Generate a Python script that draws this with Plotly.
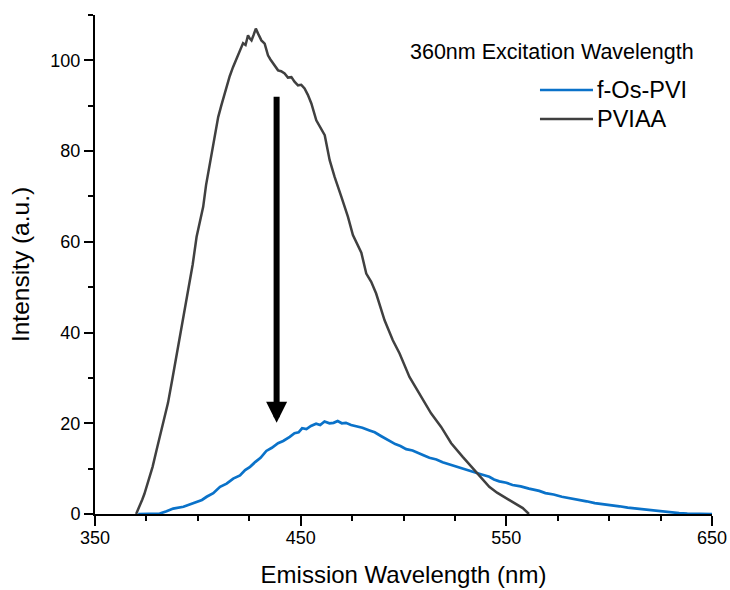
import plotly.graph_objects as go

# ---------------- data ----------------
pviaa_wl = [370, 371.5, 373, 374, 376, 378, 380, 383, 385.5, 387.5, 389.5, 391.3, 393.5, 395.3,
            397.5, 399.4, 401, 402.6, 404, 405.3, 406.5, 407.4, 408.8, 409.9, 411.5, 413.9, 415.5,
            417.1, 418.8, 420.4, 422, 423.2, 424.4, 425.3, 426.1, 427.2, 428.2, 429.3, 430.9, 432.5,
            434.1, 435.3, 436.6, 438, 439, 440.5, 442.2, 443.8, 445.5, 447, 448.7, 450.3, 451.9,
            453.5, 455.2, 457.6, 459.8, 461.7, 464.1, 466.5, 469.8, 473, 475.4, 477.5, 479.5, 481.9,
            484.3, 486.7, 490.8, 494.8, 498.1, 502.9, 508.6, 513.4, 518.3, 523.2, 528.8, 535.3,
            541.7, 545.5, 549.9, 554, 558, 561]
pviaa_int = [0, 1.5, 3.2, 4.4, 7.2, 10.4, 14.2, 20, 24.5, 29.5, 34.5, 39.1, 44.5, 48.6,
             55, 61.1, 64.5, 67.7, 72.5, 75.8, 78.5, 81.6, 85.2, 87.5, 90.2, 94.1, 96.5,
             98.5, 100.3, 101.8, 103.8, 103.4, 105.5, 104.8, 104.4, 105.7, 107, 105.9, 104.4, 103.7,
             101.1, 100.2, 99.3, 98.5, 97.8, 97.6, 97.1, 96.2, 96.3, 95.3, 94.5, 94.6, 93.8,
             92.4, 90.5, 86.8, 85.1, 83.5, 78, 74.3, 69.9, 65.5, 61.5, 59.6, 57.6, 53,
             51.2, 48.6, 42.7, 38.3, 35.4, 30.2, 25.8, 22.2, 19.2, 15.6, 12.6, 9.3,
             6.0, 4.7, 3.5, 2.2, 1.3, 0]

fos_wl = [371, 376, 381.5, 384.8, 388, 393, 396, 399.4, 402, 404.3, 407.5, 410.8, 414, 417.2,
          420.5, 423, 425.4, 428, 430.5, 433.3, 436, 439, 441.5, 444.7, 447, 449, 450.7, 452.8,
          455, 457.5, 459.5, 461.6, 464, 466, 468, 470, 472, 474.5, 477, 480, 483.5, 486, 489,
          491, 493.2, 496, 498.5, 501.3, 504.4, 507.5, 510, 512.6, 516, 519, 522, 525.5, 528,
          531, 535.4, 538, 541.7, 544, 546.6, 550, 553, 557, 561, 566, 569, 573, 577, 581, 585,
          589, 593, 597, 601, 605, 609, 613, 618, 622, 626, 630, 634, 638, 642, 646, 650]
fos_int = [0, 0, 0.1, 0.6, 1.2, 1.6, 2.1, 2.5, 3.1, 3.8, 4.6, 6.0, 6.7, 7.8,
           8.5, 9.7, 10.4, 11.5, 12.4, 13.9, 14.6, 15.6, 16.1, 17.0, 17.8, 18.0, 18.9, 18.7,
           19.4, 19.9, 19.6, 20.4, 20.0, 20.1, 20.5, 20.0, 20.1, 19.6, 19.4, 19.0, 18.4, 18.0, 17.2,
           16.7, 16.1, 15.4, 15.0, 14.3, 14.0, 13.3, 12.9, 12.4, 12.0, 11.4, 11.0, 10.5, 10.1,
           9.7, 9.2, 8.7, 8.2, 7.6, 7.2, 6.9, 6.4, 6.1, 5.6, 5.1, 4.6, 4.3, 3.8, 3.5, 3.1,
           2.8, 2.4, 2.2, 2.0, 1.7, 1.4, 1.2, 0.9, 0.7, 0.5, 0.3, 0.2, 0.1, 0.05, 0, 0]

series_names = ["f-Os-PVI", "PVIAA"]
legend_title = "360nm Excitation Wavelength"
x_ticks = [350, 450, 550, 650]
y_ticks = [0, 20, 40, 60, 80, 100]
arrow_x = 438.3
arrow_from = 92.3
arrow_to = 20.1

BLUE = "#0a72c9"
GRAY = "#404040"
TXT = "#000000"
FONT = "Liberation Sans, Arial, sans-serif"

fig = go.Figure()
fig.add_trace(go.Scatter(x=fos_wl, y=fos_int, mode="lines", name=series_names[0],
                         line=dict(color=BLUE, width=2.7), showlegend=False))
fig.add_trace(go.Scatter(x=pviaa_wl, y=pviaa_int, mode="lines", name=series_names[1],
                         line=dict(color=GRAY, width=2.5), showlegend=False))

# arrow
fig.add_annotation(x=arrow_x, y=arrow_to, ax=arrow_x, ay=arrow_from, xref="x", yref="y",
                   axref="x", ayref="y", text="", showarrow=True, arrowhead=2,
                   arrowsize=0.7, arrowwidth=6, arrowcolor="black")

# custom legend
fig.add_annotation(x=0.5073, y=0.9259, xref="paper", yref="paper", text=legend_title,
                   showarrow=False, xanchor="left", yanchor="middle",
                   font=dict(family=FONT, size=21.5, color=TXT))
leg_y = [0.8497, 0.7916]
for name, col, yy in zip(series_names, [BLUE, GRAY], leg_y):
    fig.add_shape(type="line", xref="paper", yref="paper", x0=0.7212, x1=0.8071, y0=yy, y1=yy,
                  line=dict(color=col, width=2.5))
    fig.add_annotation(x=0.8100, y=yy, xref="paper", yref="paper", text=name, showarrow=False,
                       xanchor="left", yanchor="middle",
                       font=dict(family=FONT, size=23.5, color=TXT))

axis_common = dict(showgrid=False, zeroline=False, showline=True, linecolor="black",
                   linewidth=2, ticks="outside", tickcolor="black", tickwidth=2,
                   tickfont=dict(family=FONT, size=18, color=TXT), mirror=False,
                   automargin=False)

fig.update_xaxes(range=[350, 650], tickvals=x_ticks, ticklen=10, ticklabelstandoff=-4,
                 minor=dict(dtick=25, tick0=350, ticks="outside", ticklen=5, tickwidth=2,
                            tickcolor="black", showgrid=False),
                 title=dict(text="Emission Wavelength (nm)", font=dict(family=FONT, size=24, color=TXT),
                            standoff=20),
                 **axis_common)
fig.update_yaxes(range=[0, 110], tickvals=y_ticks, ticklen=9,
                 minor=dict(dtick=10, tick0=0, ticks="outside", ticklen=5, tickwidth=2,
                            tickcolor="black", showgrid=False),
                 title=dict(text="Intensity (a.u.)", font=dict(family=FONT, size=24.5, color=TXT),
                            standoff=14),
                 **axis_common)

fig.update_layout(width=730, height=590, margin=dict(l=95, r=18, t=15, b=76),
                  plot_bgcolor="white", paper_bgcolor="white", showlegend=False,
                  font=dict(family=FONT))

fig.write_html("out.html")
